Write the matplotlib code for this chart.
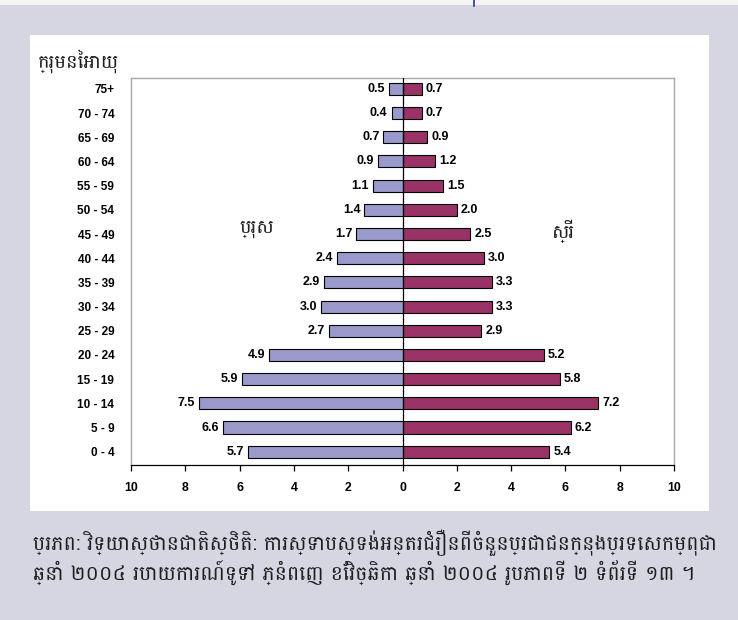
import matplotlib
matplotlib.use("Agg")
import matplotlib.pyplot as plt
from matplotlib import font_manager
import numpy as np

# ---------------- data ----------------
age_groups = ["0 - 4", "5 - 9", "10 - 14", "15 - 19", "20 - 24", "25 - 29", "30 - 34",
              "35 - 39", "40 - 44", "45 - 49", "50 - 54", "55 - 59", "60 - 64",
              "65 - 69", "70 - 74", "75+"]
male = [5.7, 6.6, 7.5, 5.9, 4.9, 2.7, 3.0, 2.9, 2.4, 1.7, 1.4, 1.1, 0.9, 0.7, 0.4, 0.5]
female = [5.4, 6.2, 7.2, 5.8, 5.2, 2.9, 3.3, 3.3, 3.0, 2.5, 2.0, 1.5, 1.2, 0.9, 0.7, 0.7]
x_ticks = [-10, -8, -6, -4, -2, 0, 2, 4, 6, 8, 10]
x_tick_labels = ["10", "8", "6", "4", "2", "0", "2", "4", "6", "8", "10"]

title_text = "ក្រុមនៃអាយុ"
male_label = "ប្រុស"
female_label = "ស្រី"
caption_1 = "ប្រភព: វិទ្យាស្ថានជាតិស្ថិតិ: ការស្ទាបស្ទង់អន្តរជំរឿនពីចំនួនប្រជាជនក្នុងប្រទេសកម្ពុជា"
caption_2 = "ឆ្នាំ ២០០៤ របាយការណ៍ទូទៅ ភ្នំពេញ ខែវិច្ឆិកា ឆ្នាំ ២០០៤ រូបភាពទី ២ ទំព័រទី ១៣ ។"

# ---------------- Khmer font ----------------
installed = {fe.name for fe in font_manager.fontManager.ttflist}
khmer_family = None
for name in ["Battambang", "Siemreap", "Khmer", "Kantumruy Pro", "Noto Sans Khmer"]:
    if name in installed:
        khmer_family = name
        break
kh_fams = ([khmer_family] if khmer_family else []) + ["DejaVu Sans"]

BG = "#d5d6e2"
MALE_C = "#9999cc"
FEMALE_C = "#993366"
TXT = "#1e1e1e"

fig = plt.figure(figsize=(7.38, 6.2), dpi=100, facecolor=BG)
fig.add_artist(plt.Rectangle((0, 1 - 5 / 620), 1, 5 / 620, transform=fig.transFigure,
                             facecolor="#f4f4f4", edgecolor="none", zorder=0))
fig.add_artist(plt.Line2D([474 / 738, 474 / 738], [1, 1 - 6 / 620], transform=fig.transFigure,
                          color="#1f3f8f", lw=1.2))
fig.add_artist(plt.Rectangle((30 / 738, 1 - 511 / 620), (709 - 30) / 738, (511 - 35) / 620,
                             transform=fig.transFigure, facecolor="white", edgecolor="none", zorder=0))

ax = fig.add_axes([131 / 738, 1 - 465 / 620, (674 - 131) / 738, (465 - 78) / 620])
ax.set_facecolor("white")
y = np.arange(len(age_groups))
male_neg = [-v for v in male]
ax.barh(y, male_neg, height=0.5, color=MALE_C, edgecolor="black", linewidth=0.8, zorder=3)
ax.barh(y, female, height=0.5, color=FEMALE_C, edgecolor="black", linewidth=0.8, zorder=3)
ax.axvline(0, color="black", lw=0.9, zorder=4)

lab_font = dict(family="Liberation Sans", weight="bold", fontsize=9)
for yi, m, f in zip(y, male, female):
    ax.text(-m - 0.15, yi, f"{m:.1f}", ha="right", va="center", **lab_font)
    ax.text(f + 0.15, yi, f"{f:.1f}", ha="left", va="center", **lab_font)

ax.set_xlim(-10, 10)
ax.set_ylim(-0.55, 15.45)
ax.set_xticks(x_ticks)
ax.set_xticklabels(x_tick_labels, family="Liberation Sans", weight="bold", fontsize=8.8)
ax.set_yticks(y)
ax.set_yticklabels(age_groups, family="Liberation Sans", weight="bold", fontsize=8.5)
ax.tick_params(axis="y", length=0, pad=12)
ax.tick_params(axis="x", direction="out", length=4, width=0.9, color="black", pad=8)
for s in ["top", "right", "left"]:
    ax.spines[s].set_color("#a8a8b0")
    ax.spines[s].set_linewidth(1.0)
ax.spines["bottom"].set_color("black")
ax.spines["bottom"].set_linewidth(0.9)

fig.text(38 / 738, 1 - 61 / 620, title_text, family=kh_fams, fontsize=14,
         ha="left", va="center", color=TXT)
fig.text(257 / 738, 1 - 229 / 620, male_label, family=kh_fams, fontsize=14,
         ha="center", va="center", color=TXT)
fig.text(563 / 738, 1 - 231 / 620, female_label, family=kh_fams, fontsize=14,
         ha="center", va="center", color=TXT)

c1 = fig.text(33 / 738, 1 - 543 / 620, caption_1, family=kh_fams, fontsize=15,
              ha="left", va="center", color=TXT)
c2 = fig.text(33 / 738, 1 - 573 / 620, caption_2, family=kh_fams, fontsize=15,
              ha="left", va="center", color=TXT)

# shrink caption lines so they fit the same width as in the reference
fig.canvas.draw()
r = fig.canvas.get_renderer()
max_w = 685
for t in (c1, c2):
    w = t.get_window_extent(r).width
    if w > max_w:
        t.set_fontsize(t.get_fontsize() * max_w / w)
s1 = min(c1.get_fontsize(), c2.get_fontsize())
c1.set_fontsize(s1)
c2.set_fontsize(s1)

fig.savefig("out.png", dpi=100, facecolor=BG)
